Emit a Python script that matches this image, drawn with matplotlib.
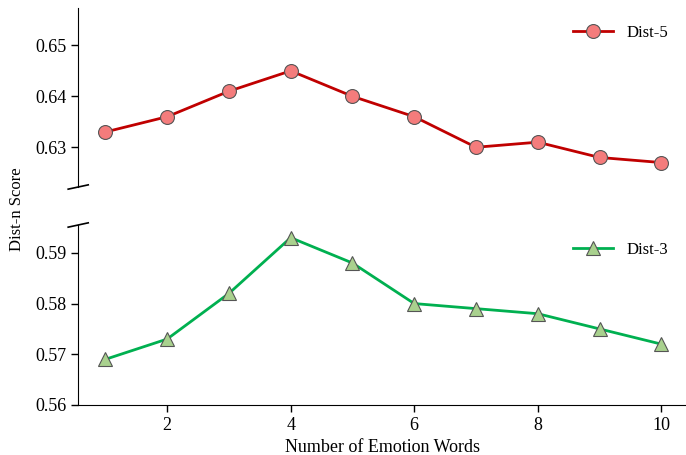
import matplotlib.pyplot as plt

plt.rcParams["font.family"] = ["Liberation Serif", "DejaVu Serif"]
plt.rcParams["font.size"] = 13

# 数据
num_words = [1, 2, 3, 4, 5, 6, 7, 8, 9, 10]
dist5 = [0.633, 0.636, 0.641, 0.645, 0.640, 0.636, 0.630, 0.631, 0.628, 0.627]
dist3 = [0.569, 0.573, 0.582, 0.593, 0.588, 0.580, 0.579, 0.578, 0.575, 0.572]

fig = plt.figure(figsize=(6.86, 4.55), dpi=100)
ax_top = fig.add_axes([0.114, 0.589, 0.886, 0.393])
ax_bot = fig.add_axes([0.114, 0.11, 0.886, 0.3955])

ax_top.plot(num_words, dist5, color="#c00000", lw=2, marker="o", ms=10,
            mfc="#f47c7c", mec="#555555", mew=0.8, label="Dist-5")
ax_bot.plot(num_words, dist3, color="#00b050", lw=2, marker="^", ms=10.5,
            mfc="#a9d18e", mec="#555555", mew=0.8, label="Dist-3")

for ax in (ax_top, ax_bot):
    ax.set_xlim(0.56, 10.4)
    ax.spines["top"].set_visible(False)
    ax.spines["right"].set_visible(False)
    ax.tick_params(direction="out", length=5, width=1)
    ax.legend(loc="upper right", frameon=False, handlelength=2.4, fontsize=12,
              bbox_to_anchor=(0.995, 0.99))

ax_top.set_ylim(0.6222, 0.6573)
ax_top.set_yticks([0.63, 0.64, 0.65])
ax_top.spines["bottom"].set_visible(False)
ax_top.set_xticks([])

ax_bot.set_ylim(0.56, 0.5955)
ax_bot.set_yticks([0.56, 0.57, 0.58, 0.59])
ax_bot.set_xticks([2, 4, 6, 8, 10])
ax_bot.set_xlabel("Number of Emotion Words", labelpad=4)

# 断轴标记
dx = 0.0165
kw = dict(color="k", clip_on=False, lw=1.2)
ax_top.plot((-dx, dx), (-0.012, 0.012), transform=ax_top.transAxes, **kw)
ax_bot.plot((-dx, dx), (0.988, 1.012), transform=ax_bot.transAxes, **kw)

fig.text(0.025, 0.541, "Dist-n Score", rotation=90, va="center", ha="center",
         fontsize=12)

fig.savefig("out.png", dpi=100)
